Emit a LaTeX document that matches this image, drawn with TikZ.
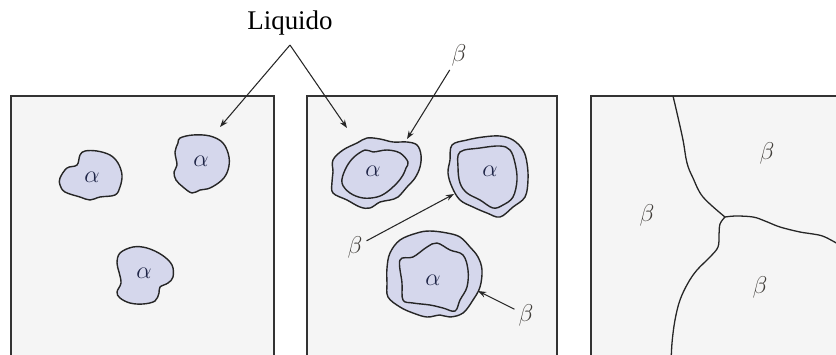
\documentclass[tikz,border=0pt]{standalone}
\usepackage{fontspec}
\setmainfont{Liberation Serif}
\usetikzlibrary{arrows.meta}

\definecolor{panelfill}{RGB}{245,245,245}
\definecolor{grainfill}{RGB}{213,215,236}
\definecolor{alphatext}{RGB}{30,36,70}
\definecolor{betatext}{RGB}{65,62,58}

\begin{document}
\begin{tikzpicture}[x=0.03cm, y=-0.03cm, >={Stealth[length=7pt,width=5pt]},
    every node/.style={font=\fontsize{21}{25}\selectfont},
    panel/.style={draw=black!80, line width=1.6pt, fill=panelfill},
    grain/.style={draw=black!85, line width=1.2pt, fill=grainfill},
    boundary/.style={draw=black!85, line width=1.1pt},
    arr/.style={->, draw=black!85, line width=0.9pt},
    alph/.style={text=alphatext},
    bet/.style={text=betatext}]
    \clip (0,0) rectangle (836,354);

    % Three stages, open at the bottom
    \draw[panel] (11,96) rectangle (274,380);
    \draw[panel] (307,96) rectangle (557,380);
    \draw[panel] (591,96) rectangle (860,380);

    % Stage 1: alpha grains in the liquid
    \draw[grain] plot[smooth cycle, tension=0.6] coordinates {(60,178) (67,168) (77,165) (80,155) (85,151) (97,151) (110,155) (118,163) (122,175) (120,187) (115,195) (100,197) (90,200) (80,197) (65,192) (60,185)};
    \draw[grain] plot[smooth cycle, tension=0.6] coordinates {(180,138) (193,135) (210,136) (223,143) (229,157) (228,170) (222,180) (210,188) (200,190) (192,193) (183,187) (176,180) (174,172) (177,165) (175,152) (178,143)};
    \draw[grain] plot[smooth cycle, tension=0.6] coordinates {(120,253) (133,247) (147,248) (162,255) (172,265) (173,277) (168,283) (160,287) (159,293) (155,301) (143,304) (130,303) (120,298) (117,292) (121,283) (119,272) (117,263)};
    \node[alph] (a1) at (92,177) {$\alpha$};
    \node[alph] (a2) at (201,161) {$\alpha$};
    \node[alph] (a3) at (144,273) {$\alpha$};

    % Stage 2: beta rims around the alpha cores
    \draw[grain] plot[smooth cycle, tension=0.6] coordinates {(333,160) (343,150) (357,143) (367,138) (380,139) (393,142) (407,142) (417,145) (421,155) (420,167) (415,178) (407,187) (398,197) (390,200) (380,202) (370,208) (360,207) (347,200) (333,193) (332,182) (333,172)};
    \draw[grain] plot[smooth cycle, tension=0.6] coordinates {(345,170) (353,158) (365,150) (373,152) (387,150) (400,153) (408,162) (406,168) (403,175) (397,183) (387,192) (377,197) (363,198) (350,193) (342,183)};
    \draw[grain] plot[smooth cycle, tension=0.6] coordinates {(452,145) (467,140) (483,137) (500,136) (513,140) (523,150) (527,163) (528,180) (525,197) (513,207) (500,217) (487,213) (473,207) (460,200) (452,187) (448,173) (450,160)};
    \draw[grain] plot[smooth cycle, tension=0.6] coordinates {(460,152) (480,148) (500,146) (510,150) (515,163) (517,180) (513,197) (503,205) (493,208) (480,200) (467,193) (460,183) (458,167)};
    \draw[grain] plot[smooth cycle, tension=0.6] coordinates {(390,253) (400,240) (417,233) (430,231) (447,233) (460,237) (470,247) (478,257) (482,270) (480,287) (473,300) (463,313) (450,317) (440,315) (427,317) (413,313) (400,307) (388,297) (387,283) (387,268)};
    \draw[grain] plot[smooth cycle, tension=0.6] coordinates {(400,260) (413,257) (427,247) (437,243) (450,250) (463,255) (468,270) (467,287) (460,300) (455,311) (443,308) (430,305) (413,303) (403,300) (402,283)};
    \node[alph] (a4) at (373,171) {$\alpha$};
    \node[alph] (a5) at (490,171) {$\alpha$};
    \node[alph] (a6) at (433,280) {$\alpha$};

    % Stage 3: solid beta grains
    \coordinate (tj) at (725,217);
    \draw[boundary] plot[smooth, tension=0.6] coordinates {(673,96) (677,113) (683,140) (687,163) (693,178) (703,197) (725,217)};
    \draw[boundary] plot[smooth, tension=0.6] coordinates {(725,217) (736,216) (753,217) (765,221) (780,227) (800,232) (813,234) (825,237) (845,248)};
    \draw[boundary] plot[smooth, tension=0.6] coordinates {(725,217) (720,224) (719,235) (718,247) (710,257) (697,270) (688,283) (680,300) (675,320) (672,343) (671,365)};
    \node[bet] (b4) at (767,153) {$\beta$};
    \node[bet] (b5) at (647,215) {$\beta$};
    \node[bet] (b6) at (760,287) {$\beta$};

    % Labels and pointers
    \node[anchor=south, inner ysep=8pt, font=\fontsize{23}{27}\selectfont] (liq) at (290,45) {Liquido};
    \coordinate (liqL) at (220,127);
    \coordinate (liqR) at (347,128);
    \draw[arr] (liq.south) -- (liqL);
    \draw[arr] (liq.south) -- (liqR);

    \node[bet] (b1) at (459,55) {$\beta$};
    \node[bet] (b2) at (355,247) {$\beta$};
    \node[bet] (b3) at (526,315) {$\beta$};
    \coordinate (b1t) at (407,139);
    \coordinate (b2t) at (454,194);
    \coordinate (b3t) at (478,291);
    \draw[arr] (b1) -- (b1t);
    \draw[arr] (b2) -- (b2t);
    \draw[arr] (b3) -- (b3t);
\end{tikzpicture}
\end{document}
